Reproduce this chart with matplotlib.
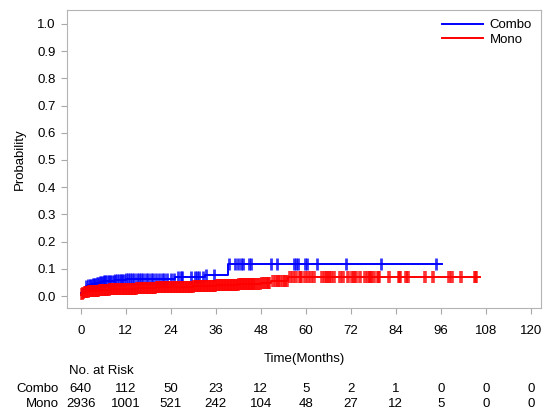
import numpy as np
import matplotlib
matplotlib.use("Agg")
import matplotlib.pyplot as plt
from matplotlib.transforms import blended_transform_factory

plt.rcParams["font.family"] = ["Liberation Sans", "DejaVu Sans"]

# cumulative incidence steps (months, probability)
combo_t = [0, 0.3, 0.6, 1.0, 1.5, 2.0, 3.0, 4.0, 5.0, 6.0, 9.0, 12.0, 25.0, 33.0, 39.3]
combo_p = [0.012, 0.02, 0.027, 0.032, 0.036, 0.04, 0.044, 0.048, 0.052, 0.055, 0.058, 0.061, 0.07, 0.077, 0.1165]
combo_end = 96.2

mono_t = [0, 0.3, 0.6, 1.0, 2.0, 3.0, 5.0, 7.7, 10.0, 15.0, 20.0, 24.0, 30.0, 36.0, 42.0, 48.0, 50.8, 55.3]
mono_p = [0.004, 0.008, 0.012, 0.015, 0.018, 0.02, 0.023, 0.025, 0.027, 0.030, 0.033, 0.035, 0.038, 0.042, 0.046, 0.049, 0.056, 0.071]
mono_end = 106.4

# censoring times
combo_cens = [1.5, 2.0, 2.4, 2.8, 3.2, 3.5, 3.9, 4.3, 4.6, 5.0, 5.4, 5.8, 6.1, 6.5,
              7.0, 7.4, 7.9, 8.3, 8.8, 9.2, 9.7, 10.1, 10.6, 11.0, 11.5, 12.0, 12.6,
              13.1, 13.7, 14.2, 14.9, 15.4, 16.0, 16.7, 17.3, 18.0, 18.6, 19.3, 20.1,
              20.8, 21.6, 22.3, 23.1, 24.0, 24.8, 26.0, 26.6, 27.1, 29.5, 30.4, 31.0,
              31.5, 32.6, 33.5, 35.5, 39.5, 41.1, 42.0, 42.6, 43.3, 44.9, 45.5, 50.8,
              52.4, 56.9, 57.3, 57.9, 59.7, 60.4, 63.0, 70.7, 80.0, 94.8]
mono_cens = [0.3, 0.7, 1.1, 1.5, 1.9, 2.3, 2.7, 3.1, 3.5, 3.9, 4.3, 4.7, 5.1, 5.5,
             5.9, 6.3, 6.7, 7.1, 7.5, 7.9, 8.3, 8.7, 9.1, 9.5, 9.9, 10.3, 10.7, 11.1,
             11.5, 11.9, 12.3, 12.7, 13.1, 13.5, 13.9, 14.3, 14.7, 15.1, 15.5, 15.9,
             16.3, 16.7, 17.1, 17.5, 17.9, 18.3, 18.7, 19.1, 19.5, 19.9, 20.3, 20.7,
             21.1, 21.5, 21.9, 22.3, 22.7, 23.1, 23.5, 23.9, 24.3, 24.7, 25.1, 25.5,
             25.9, 26.3, 26.7, 27.1, 27.5, 27.9, 28.3, 28.7, 29.1, 29.5, 29.9, 30.3,
             30.7, 31.1, 31.5, 31.9, 32.3, 32.7, 33.1, 33.5, 33.9, 34.3, 34.7, 35.1,
             35.5, 35.9, 36.3, 36.7, 37.1, 37.5, 37.9, 38.3, 38.7, 39.1, 39.5, 39.9,
             40.3, 40.7, 41.1, 41.5, 41.9, 42.3, 42.7, 43.1, 43.5, 43.9, 44.3, 44.7,
             45.1, 45.5, 45.9, 46.3, 46.8, 47.3, 47.8, 48.3, 48.8, 49.3, 49.8, 50.3,
             51.3, 52.0, 52.6, 53.2, 53.8, 54.5, 55.0, 55.7, 56.6, 57.5, 58.4, 58.8,
             59.7, 60.6, 61.5, 62.1, 64.4, 65.1, 65.7, 66.2, 66.8, 67.5, 69.1, 70.0,
             71.3, 72.2, 72.8, 73.5, 74.4, 75.7, 76.6, 77.1, 77.5, 78.1, 79.3, 79.5,
             82.2, 84.9, 85.2, 86.8, 87.3, 91.7, 93.8, 98.2, 99.1, 101.5, 105.1, 105.5]

risk_times = [0, 12, 24, 36, 48, 60, 72, 84, 96, 108, 120]
combo_risk = [640, 112, 50, 23, 12, 5, 2, 1, 0, 0, 0]
mono_risk = [2936, 1001, 521, 242, 104, 48, 27, 12, 5, 0, 0]


def step_value(t_knots, p_knots, t):
    idx = np.searchsorted(t_knots, t, side="right") - 1
    return np.asarray(p_knots)[idx]


fig = plt.figure(figsize=(5.5, 4.13), dpi=100)
ax = fig.add_axes([0.1218, 0.2542, 0.8618, 0.7216])

for t, p, end, cens, col, name, mw in [
        (combo_t, combo_p, combo_end, combo_cens, "#0000ff", "Combo", 2.0),
        (mono_t, mono_p, mono_end, mono_cens, "#ff0000", "Mono", 2.6)]:
    ax.step(t + [end], p + [p[-1]], where="post", color=col, lw=1.4, label=name)
    ax.plot(cens, step_value(t, p, cens), ls="none", marker="|", ms=8.6,
            mew=mw, color=col, alpha=0.8)

ax.set_xlim(-3.7, 122.7)
ax.set_ylim(-0.044, 1.051)
ax.set_xticks(risk_times)
ax.set_yticks(np.arange(0, 1.01, 0.1))
ax.yaxis.set_major_formatter(matplotlib.ticker.FormatStrFormatter("%.1f"))
ax.tick_params(length=4, color="#a8a8a8", labelsize=9.5, pad=4)
ax.tick_params(axis="x", pad=8)
for s in ax.spines.values():
    s.set_color("#b4b4b4")

ax.set_ylabel("Probability", fontsize=9.5, labelpad=8)
ax.set_xlabel("Time(Months)", fontsize=9.5, labelpad=12)

ax.legend(loc="upper right", frameon=False, fontsize=9.5, handlelength=3.1,
          borderaxespad=0.3, labelspacing=0.15, handletextpad=0.5)

tr = blended_transform_factory(ax.transData, fig.transFigure)
fig.text(68.6 / 550, 1 - 371 / 413, "No. at Risk", fontsize=9.5, va="center", ha="left")
fig.text(59 / 550, 1 - 389 / 413, "Combo", fontsize=9.5, va="center", ha="right")
fig.text(59 / 550, 1 - 404 / 413, "Mono", fontsize=9.5, va="center", ha="right")
for x, c, m in zip(risk_times, combo_risk, mono_risk):
    ax.text(x, 1 - 389 / 413, str(c), transform=tr, fontsize=9.5, ha="center", va="center")
    ax.text(x, 1 - 404 / 413, str(m), transform=tr, fontsize=9.5, ha="center", va="center")

fig.savefig("out.png", dpi=100)
